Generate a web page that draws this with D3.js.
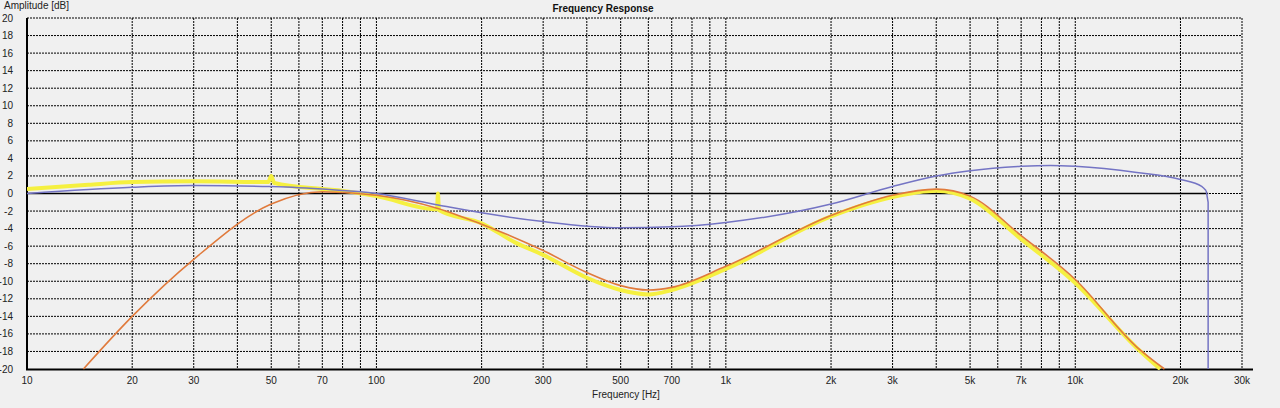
<!DOCTYPE html>
<html><head><meta charset="utf-8">
<script src="https://cdn.jsdelivr.net/npm/d3@7"></script>
<style>body{margin:0;background:#f0f0f0;font-family:"Liberation Sans",Arial,sans-serif}</style>
</head><body><svg id="c" width="1280" height="408"></svg>
<script>
const xTicks = [10,20,30,50,70,100,200,300,500,700,1000,2000,3000,5000,7000,10000,20000,30000];
const xTickLabels = ["10","20","30","50","70","100","200","300","500","700","1k","2k","3k","5k","7k","10k","20k","30k"];
const gridFreqs = [10,20,30,40,50,60,70,80,90,100,200,300,400,500,600,700,800,900,1000,2000,3000,4000,5000,6000,7000,8000,9000,10000,20000,30000];
const yTicks = d3.range(-20, 21, 2);

const yellowF = [10,15,20,30,49,50,51,70,80,100,149,150,151,200,250,300,400,500,600,700,1000,2000,3000,4000,5000,7000,10000,15000,17500];
const yellowV = [0.5,1.0,1.3,1.4,1.3,2.0,1.2,0.5,0.3,-0.3,-1.8,0,-1.9,-3.4,-5.6,-7.0,-9.6,-11.0,-11.5,-11.0,-8.6,-2.6,-0.4,0.3,-0.6,-5.2,-10.2,-17.6,-20];
const orangeF = [14.5,20,30,50,70,100,150,200,300,400,500,600,700,1000,2000,3000,4000,5000,7000,10000,15000,18000];
const orangeV = [-20,-14,-7.5,-1.2,0.2,-0.2,-1.7,-3.5,-6.5,-9,-10.5,-11,-10.7,-8.3,-2.5,-0.2,0.5,-0.3,-4.8,-9.8,-17.5,-20];
const blueF = [10,20,30,50,70,100,150,200,300,500,700,1000,2000,3000,4000,5000,7000,8500,10000,15000,20000,23000,23700];
const blueV = [0,0.7,0.9,0.8,0.5,0,-1.3,-2.2,-3.2,-3.9,-3.8,-3.3,-1.2,0.8,2.0,2.6,3.1,3.2,3.1,2.4,1.6,0.8,0.3];
const blueTailF = [23700,24000,24000];
const blueTailV = [0.3,-1,-20];

const svg = d3.select("#c");
const x = d3.scaleLog().domain([10,30000]).range([27,1242]);
const y = d3.scaleLinear().domain([-20,20]).range([369,18]);

// grid
svg.append("g").selectAll("line").data(yTicks.filter(d=>d!==-20)).join("line")
  .attr("x1",27).attr("x2",1242).attr("y1",d=>y(d)).attr("y2",d=>y(d))
  .attr("stroke","#000").attr("stroke-width",1).attr("stroke-dasharray","2,1");
svg.append("g").selectAll("line").data(gridFreqs.slice(1)).join("line")
  .attr("x1",d=>x(d)).attr("x2",d=>x(d)).attr("y1",18).attr("y2",369)
  .attr("stroke","#000").attr("stroke-width",1).attr("stroke-dasharray","2,1");

// zero line and axes
svg.append("line").attr("x1",27).attr("x2",x(24000)).attr("y1",y(0)).attr("y2",y(0)).attr("stroke","#000").attr("stroke-width",1.5);
svg.append("line").attr("x1",27).attr("x2",27).attr("y1",18).attr("y2",370).attr("stroke","#000").attr("stroke-width",2);
svg.append("line").attr("x1",26).attr("x2",1253).attr("y1",369.5).attr("y2",369.5).attr("stroke","#000").attr("stroke-width",2);

const line = d3.line().x(d=>x(d[0])).y(d=>y(d[1])).curve(d3.curveMonotoneX);
const lineLin = d3.line().x(d=>x(d[0])).y(d=>y(d[1]));
svg.append("clipPath").attr("id","cl").append("rect").attr("x",27).attr("y",18).attr("width",1215).attr("height",352);
const g = svg.append("g").attr("clip-path","url(#cl)");
g.append("path").attr("d",line(d3.zip(yellowF,yellowV))).attr("fill","none").attr("stroke","#f5f040").attr("stroke-width",4);
g.append("path").attr("d",line(d3.zip(orangeF,orangeV))).attr("fill","none").attr("stroke","#e07a3c").attr("stroke-width",1.6);
g.append("path").attr("d",line(d3.zip(blueF,blueV))).attr("fill","none").attr("stroke","#7474c4").attr("stroke-width",1.5);
g.append("path").attr("d",lineLin(d3.zip(blueTailF,blueTailV))).attr("fill","none").attr("stroke","#7474c4").attr("stroke-width",1.5);

// labels
svg.append("g").selectAll("text").data(yTicks).join("text")
  .attr("x",13).attr("y",d=>y(d)+3.5).attr("text-anchor","end")
  .attr("font-size",10).attr("fill","#222").text(d=>d);
svg.append("g").selectAll("text").data(xTicks).join("text")
  .attr("x",d=>x(d)).attr("y",384).attr("text-anchor","middle")
  .attr("font-size",10).attr("fill","#222").text((d,i)=>xTickLabels[i]);
svg.append("text").attr("x",4).attr("y",9).attr("font-size",10).attr("fill","#222").text("Amplitude [dB]");
svg.append("text").attr("x",603).attr("y",12).attr("text-anchor","middle").attr("font-size",10).attr("font-weight","bold").attr("fill","#111").text("Frequency Response");
svg.append("text").attr("x",626).attr("y",398).attr("text-anchor","middle").attr("font-size",10).attr("fill","#222").text("Frequency [Hz]");
</script></body></html>
